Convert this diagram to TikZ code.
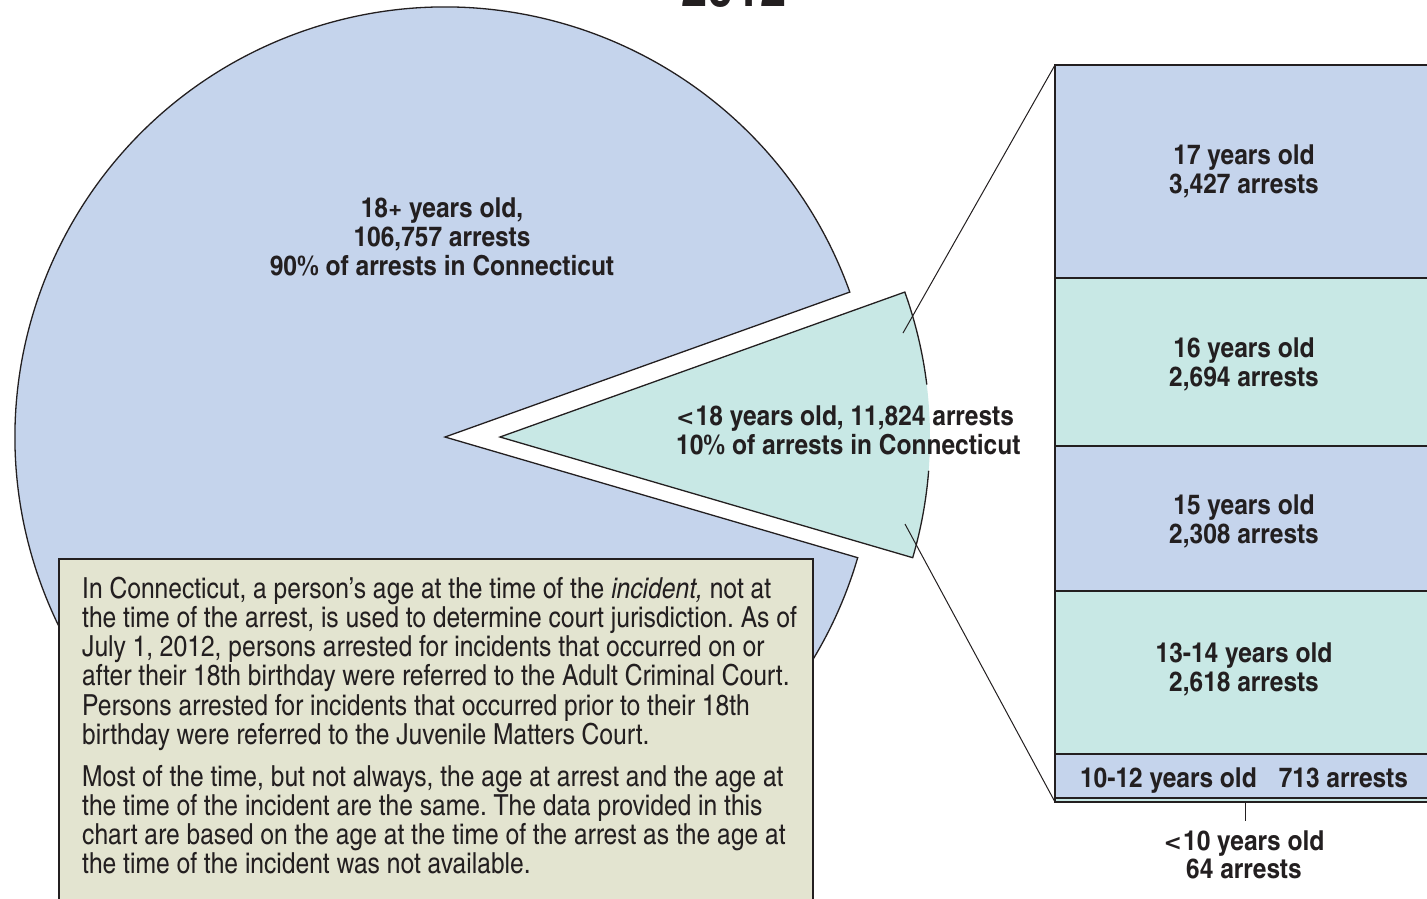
\documentclass[tikz,border=0pt]{standalone}
\usepackage{fontspec}
\setmainfont{texgyreheroscn}[Extension=.otf, UprightFont=*-regular, BoldFont=*-bold, ItalicFont=*-italic, BoldItalicFont=*-bolditalic]
\newfontfamily\bodyfont{texgyreheroscn}[Extension=.otf, UprightFont=*-regular, BoldFont=*-bold, ItalicFont=*-italic, BoldItalicFont=*-bolditalic, FakeStretch=1.035]
\newfontfamily\lblfont{texgyreheroscn}[Extension=.otf, UprightFont=*-bold, FakeStretch=1.087]
\newfontfamily\symfont{DejaVu Sans}
\newcommand{\lessig}{{\symfont\bfseries\fontsize{22}{29}\selectfont<}\hspace{0.04em}}
\frenchspacing
\usetikzlibrary{calc}
\definecolor{pieblue}{RGB}{197,212,236}
\definecolor{pieteal}{RGB}{200,232,229}
\definecolor{boxbeige}{RGB}{227,228,208}
\definecolor{ink}{RGB}{35,31,32}
\begin{document}
\begin{tikzpicture}[x=1pt,y=-1pt,
  outline/.style={draw=ink, line width=1.3pt, line join=miter},
  barline/.style={draw=ink, line width=1.8pt},
  lbl/.style={inner sep=0pt, text=ink, font=\lblfont\fontsize{27.5}{29}\selectfont, anchor=base},
  body/.style={inner sep=0pt, text=ink, font=\bodyfont\fontsize{29}{29}\selectfont\frenchspacing, anchor=base west}]
\useasboundingbox (0,0) rectangle (1427,898);
\clip (0,0) rectangle (1427,898);
% title (cut off)
\node[inner sep=0pt, text=ink, font=\lblfont\fontsize{53}{53}\selectfont, anchor=base] (title) at (734,6) {2012};
% big pie (90%)
\coordinate (C) at (445,437);
\path[fill=pieblue, outline] (C) -- ($(C)+(-19.7:430)$) arc[start angle=-19.7, end angle=-343.7, radius=430] -- cycle;
% exploded wedge (10%)
\coordinate (W) at (500,437);
\fill[pieteal] (W) -- ($(W)+(-19.7:430)$) arc[start angle=-19.7, end angle=16.3, radius=430] -- cycle;
\draw[outline] ($(W)+(4.5:430)$) arc[start angle=4.5, end angle=16.3, radius=430] -- (W) -- ($(W)+(-19.7:430)$) arc[start angle=-19.7, end angle=-7, radius=430];
% stacked bar
\coordinate (bt) at (1055,65);
\coordinate (bb) at (1055,802);
\fill[pieblue] (1055,65) rectangle (1440,278);
\fill[pieteal] (1055,278) rectangle (1440,446);
\fill[pieblue] (1055,446) rectangle (1440,591);
\fill[pieteal] (1055,591) rectangle (1440,754);
\fill[pieblue] (1055,754) rectangle (1440,798);
\fill[pieteal] (1055,798) rectangle (1440,802);
\draw[barline] (1440,65) -- (bt) -- (bb) -- (1440,802);
\foreach \yy in {278,446,591,754,798} \draw[barline] (1055,\yy) -- (1440,\yy);
% connectors
\coordinate (p1) at (903,333);
\coordinate (p2) at (905,524);
\draw[ink, line width=1pt] (p1) -- (bt);
\draw[ink, line width=1pt] (p2) -- (bb);
\coordinate (tk) at (1245,821);
\draw[ink, line width=1pt] (1245,802) -- (tk);
% labels
\node[lbl] (a1) at (442,217) {18+ years old,};
\node[lbl] (a2) at (442,246) {106,757 arrests};
\node[lbl] (a3) at (442,275) {90\% of arrests in Connecticut};
\node[lbl, anchor=base west] (b1) at (676,425) {\lessig18 years old, 11,824 arrests};
\node[lbl, anchor=base west] (b2) at (676,454) {10\% of arrests in Connecticut};
\node[lbl] (c1) at (1244,164) {17 years old};
\node[lbl] (c2) at (1244,193) {3,427 arrests};
\node[lbl] (d1) at (1244,357) {16 years old};
\node[lbl] (d2) at (1244,386) {2,694 arrests};
\node[lbl] (e1) at (1244,514) {15 years old};
\node[lbl] (e2) at (1244,543) {2,308 arrests};
\node[lbl] (f1) at (1244,662) {13-14 years old};
\node[lbl] (f2) at (1244,691) {2,618 arrests};
\node[lbl] (g1) at (1244,787) {10-12 years old\hspace{0.8em}713 arrests};
\node[lbl] (h1) at (1244,850) {\lessig10 years old};
\node[lbl] (h2) at (1244,878) {64 arrests};
% note box
\path[fill=boxbeige, draw=ink, line width=1.3pt] (59,559) rectangle (813,910);
\node[body] (t1) at (82,598) {In Connecticut, a person’s age at the time of the \textit{incident,} not at};
\node[body] (t2) at (82,627.3) {the time of the arrest, is used to determine court jurisdiction. As of};
\node[body] (t3) at (82,656.6) {July 1, 2012, persons arrested for incidents that occurred on or};
\node[body] (t4) at (82,685.9) {after their 18th birthday were referred to the Adult Criminal Court.};
\node[body] (t5) at (82,715.2) {Persons arrested for incidents that occurred prior to their 18th};
\node[body] (t6) at (82,744.5) {birthday were referred to the Juvenile Matters Court.};
\node[body] (t7) at (82,786) {Most of the time, but not always, the age at arrest and the age at};
\node[body] (t8) at (82,815.3) {the time of the incident are the same. The data provided in this};
\node[body] (t9) at (82,844.6) {chart are based on the age at the time of the arrest as the age at};
\node[body] (t10) at (82,873.9) {the time of the incident was not available.};
\end{tikzpicture}
\end{document}
